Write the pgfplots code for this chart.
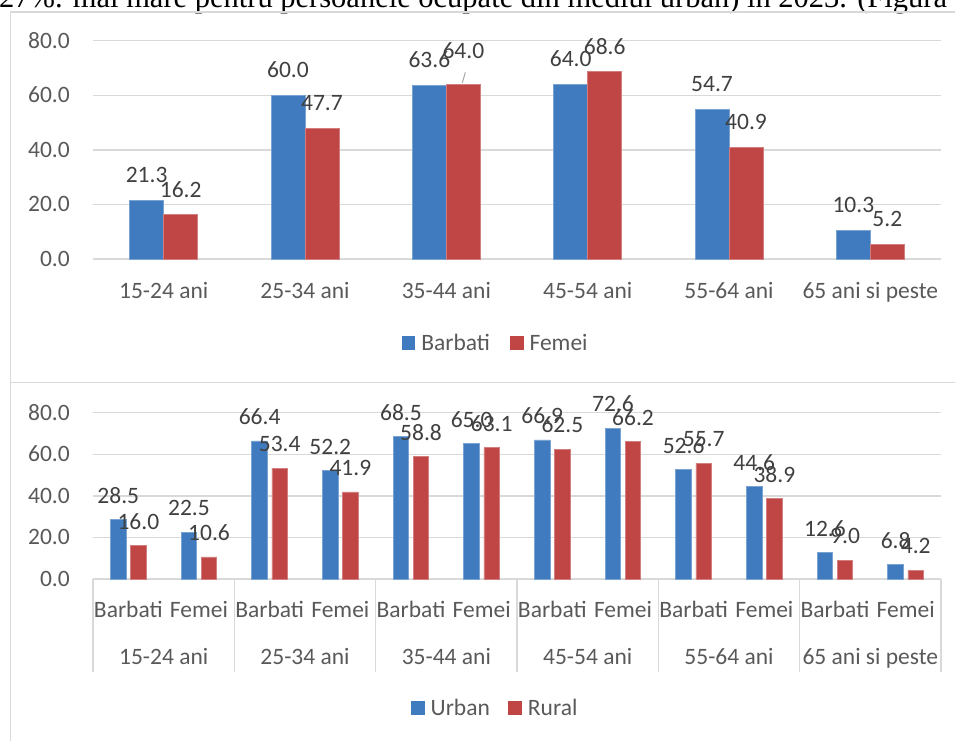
\documentclass[border=0pt]{standalone}
\usepackage{fontspec}
\setmainfont{Carlito}
\newfontfamily\serifbody{Liberation Serif}
\usepackage{pgfplots}
\pgfplotsset{compat=1.18}
\usepackage{pgfplotstable}

\definecolor{barblue}{HTML}{417BBF}
\definecolor{barred}{HTML}{C04646}
\definecolor{gridgray}{HTML}{D9D9D9}
\definecolor{tickgray}{HTML}{595959}
\definecolor{labgray}{HTML}{404040}

\pgfplotstableread{
x b f db df
0 21.3 16.2 0 0
1 60.0 47.7 0 0
2 63.6 64.0 0 8
3 64.0 68.6 0 0
4 54.7 40.9 0 0
5 10.3 5.2 0 0
}\topdata

\pgfplotstableread{
x u r
0 28.5 16.0
1 22.5 10.6
2 66.4 53.4
3 52.2 41.9
4 68.5 58.8
5 65.0 63.1
6 66.9 62.5
7 72.6 66.2
8 52.6 55.7
9 44.6 38.9
10 12.6 9.0
11 6.8 4.2
}\botdata

\newcommand\chartfont{\fontsize{23.5}{28}\selectfont}

\pgfplotsset{
  excel/.style={
    scale only axis,
    ymin=0, ymax=80,
    ytick={0,20,40,60,80},
    axis line style={draw=none},
    major tick length=0pt,
    ymajorgrids,
    major grid style={draw=gridgray, line width=1.4pt},
    ytick pos=left, xtick pos=bottom,
    /pgf/number format/.cd, fixed, fixed zerofill, precision=1, assume math mode=true,
    /pgfplots/.cd,
    yticklabel style={font=\chartfont, text=tickgray, anchor=base east, inner sep=0pt, xshift=-23pt, yshift=-7.4pt},
    xticklabel style={font=\chartfont, text=tickgray, anchor=base, inner sep=0pt},
    nodes near coords,
    legend style={draw=none, fill=none, legend columns=2, font=\chartfont, text=tickgray, inner sep=0pt, nodes={inner sep=0pt}, column sep=6pt, anchor=west},
    legend cell align=left,
  },
  sqlegend/.style={
    legend image code/.code={\draw[##1, draw=none] (0pt,-6.75pt) rectangle (13.5pt,6.75pt);},
  },
}

\begin{document}
\begin{tikzpicture}[x=1pt,y=1pt]
\path[use as bounding box] (0,0) rectangle (955,740);
\begin{scope}
\clip (0,0) rectangle (955,740);

\node[anchor=base west, inner sep=0pt, font=\serifbody\fontsize{30.5}{36}\selectfont] at (-1,732.5) {27\%. mai mare pentru persoanele ocupate din mediul urban) în 2023. (Figura 5)};

\draw[gridgray, line width=1.4pt] (10.5,-5) -- (10.5,728) -- (970,728);
\draw[gridgray, line width=1.4pt] (10.5,357.5) -- (970,357.5);

% top chart
\begin{axis}[excel,
  at={(93pt,481pt)}, anchor=south west,
  width=848pt, height=218.3pt,
  xmin=-0.5, xmax=5.5,
  xtick={0,...,5},
  xticklabels={15-24 ani,25-34 ani,35-44 ani,45-54 ani,55-64 ani,65 ani si peste},
  xticklabel style={yshift=-39pt},
  ybar=0pt, bar width=34pt,
  sqlegend,
  legend style={at={(0.364,-0.385)}, /tikz/every even column/.append style={column sep=20pt}},
]
\addplot[fill=barblue, draw=barblue!70!white, line width=0.8pt,
  visualization depends on={\thisrow{db} \as \dy},
  nodes near coords style={font=\chartfont, text=labgray, anchor=center, inner sep=0pt, yshift={(25.5+\dy)*1pt}}]
  table[x=x, y=b]{\topdata};
\addplot[fill=barred, draw=barred!70!white, line width=0.8pt,
  visualization depends on={\thisrow{df} \as \dy},
  nodes near coords style={font=\chartfont, text=labgray, anchor=center, inner sep=0pt, yshift={(25.5+\dy)*1pt}}]
  table[x=x, y=f]{\topdata};
\legend{Barbati, Femei}
\draw[gray!70, line width=1pt] ([xshift=16pt,yshift=1.5pt]axis cs:2,64) -- ([xshift=19pt,yshift=12pt]axis cs:2,64);
\end{axis}

% bottom chart
\begin{axis}[excel,
  at={(93pt,161pt)}, anchor=south west,
  width=848pt, height=166.3pt,
  xmin=-0.5, xmax=11.5,
  xtick={0,...,11},
  xticklabels={Barbati,Femei,Barbati,Femei,Barbati,Femei,Barbati,Femei,Barbati,Femei,Barbati,Femei},
  xticklabel style={yshift=-38.4pt},
  extra x ticks={0.5,2.5,4.5,6.5,8.5,10.5},
  extra x tick labels={15-24 ani,25-34 ani,35-44 ani,45-54 ani,55-64 ani,65 ani si peste},
  extra x tick style={xticklabel style={yshift=-46.6pt}},
  minor xtick={-0.5,1.5,3.5,5.5,7.5,9.5,11.5},
  minor tick length=92.7pt,
  tick align=outside,
  minor tick style={draw=gridgray, line width=1.4pt},
  ybar=4.6pt, bar width=15.5pt,
  sqlegend,
  legend style={at={(0.375,-0.7757)}, /tikz/every even column/.append style={column sep=18.5pt}},
]
\addplot[fill=barblue, draw=barblue!70!white, line width=0.8pt,
  nodes near coords style={font=\chartfont, text=labgray, anchor=center, inner sep=0pt, yshift=24pt}]
  table[x=x, y=u]{\botdata};
\addplot[fill=barred, draw=barred!70!white, line width=0.8pt,
  nodes near coords style={font=\chartfont, text=labgray, anchor=center, inner sep=0pt, yshift=24pt}]
  table[x=x, y=r]{\botdata};
\legend{Urban, Rural}
\end{axis}
\end{scope}
\end{tikzpicture}
\end{document}
